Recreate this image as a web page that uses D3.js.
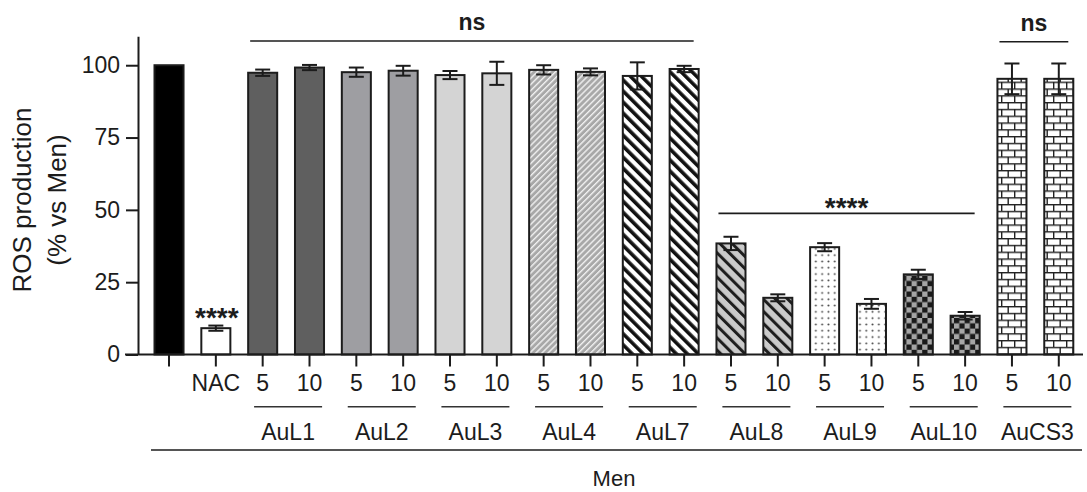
<!DOCTYPE html>
<html lang="en">
<head>
<meta charset="UTF-8">
<title>ROS production</title>
<script src="https://d3js.org/d3.v7.min.js"></script>
<style>
    html, body {
        margin: 0;
        padding: 0;
        background: #fff;
    }
    svg {
        display: block;
        font-family: "Liberation Sans", Arial, sans-serif;
    }
</style>
</head>
<body>
<svg id="chart" width="1087" height="492"></svg>
<script>
// controls, then each compound at two doses
const controls = ["Men", "NAC"];
const compounds = ["AuL1", "AuL2", "AuL3", "AuL4", "AuL7", "AuL8", "AuL9", "AuL10", "AuCS3"];
const doses = ["5", "10"];

// ROS production (% vs Men), same order as the bars
const means = [100, 9.1, 97.4, 99.2, 97.6, 98.1, 96.6, 97.2, 98.4, 97.7,
               96.3, 98.7, 38.4, 19.6, 37.1, 17.5, 27.7, 13.4, 95.3, 95.3];
const sds = [0, 0.9, 1.1, 0.9, 1.6, 1.7, 1.4, 4.0, 1.6, 1.2,
             4.7, 1.1, 2.3, 1.2, 1.4, 1.7, 1.6, 1.3, 5.3, 5.3];

const yTicks = [0, 25, 50, 75, 100];

// significance marks: bar range and label
const brackets = [
    {from: "AuL1 5", to: "AuL7 10", label: "ns", at: 108.4},
    {from: "AuL8 5", to: "AuL10 10", label: "****", at: 48.8},
    {from: "AuCS3 5", to: "AuCS3 10", label: "ns", at: 108.1}
];
const nacMark = "****";

// build rows
const rows = [];
controls.forEach(c => rows.push({id: c, group: c, label: c === "Men" ? "" : c}));
compounds.forEach(c => doses.forEach(d => rows.push({id: c + " " + d, group: c, label: d})));
rows.forEach((r, i) => { r.mean = means[i]; r.sd = sds[i]; });

const svg = d3.select("#chart");
const ink = "#1c1c1c";

// patterns
const defs = svg.append("defs");

function stripes(id, size, lineW, angle, bg, fg) {
    const p = defs.append("pattern").attr("id", id)
        .attr("patternUnits", "userSpaceOnUse")
        .attr("width", size).attr("height", size)
        .attr("patternTransform", `rotate(${angle})`);
    p.append("rect").attr("width", size).attr("height", size).attr("fill", bg);
    p.append("rect").attr("width", lineW).attr("height", size).attr("fill", fg);
}
stripes("p-aul4", 4.3, 1.4, 45, "#a8a8a8", "#f0f0f0");
stripes("p-aul7", 7.8, 3.6, -45, "#ffffff", "#111111");
stripes("p-aul8", 8.6, 3.0, -45, "#cacaca", "#1e1e1e");

const dots = defs.append("pattern").attr("id", "p-aul9")
    .attr("patternUnits", "userSpaceOnUse").attr("width", 6.3).attr("height", 6.3);
dots.append("rect").attr("width", 6.3).attr("height", 6.3).attr("fill", "#fff");
dots.append("circle").attr("cx", 3.15).attr("cy", 3.15).attr("r", 1).attr("fill", "#444");

const checker = defs.append("pattern").attr("id", "p-aul10")
    .attr("patternUnits", "userSpaceOnUse").attr("width", 10.6).attr("height", 10.6);
checker.append("rect").attr("width", 10.6).attr("height", 10.6).attr("fill", "#a6a6a6");
checker.append("rect").attr("width", 5.3).attr("height", 5.3).attr("fill", "#1a1a1a");
checker.append("rect").attr("x", 5.3).attr("y", 5.3).attr("width", 5.3).attr("height", 5.3).attr("fill", "#1a1a1a");

const brick = defs.append("pattern").attr("id", "p-aucs3")
    .attr("patternUnits", "userSpaceOnUse").attr("width", 13).attr("height", 13.6);
brick.append("rect").attr("width", 13).attr("height", 13.6).attr("fill", "#fff");
brick.append("rect").attr("width", 13).attr("height", 1.4).attr("fill", "#222");
brick.append("rect").attr("y", 6.8).attr("width", 13).attr("height", 1.4).attr("fill", "#222");
brick.append("rect").attr("width", 1.4).attr("height", 6.8).attr("fill", "#222");
brick.append("rect").attr("x", 6.5).attr("y", 6.8).attr("width", 1.4).attr("height", 6.8).attr("fill", "#222");

const fillFor = {
    Men: "#000", NAC: "#fff",
    AuL1: "#5f5f5f", AuL2: "#9e9ea2", AuL3: "#d4d4d4",
    AuL4: "url(#p-aul4)", AuL7: "url(#p-aul7)", AuL8: "url(#p-aul8)",
    AuL9: "url(#p-aul9)", AuL10: "url(#p-aul10)", AuCS3: "url(#p-aucs3)"
};

// scales
const x = d3.scaleBand()
    .domain(rows.map(r => r.id))
    .range([145.6, 1082.2])
    .paddingInner(0.38)
    .paddingOuter(0.19);
const y = d3.scaleLinear().domain([0, 110]).range([354.5, 36.3]);
const bw = x.bandwidth();
const cx = id => x(id) + bw / 2;

// bars
svg.append("g")
    .selectAll("rect")
    .data(rows)
    .join("rect")
    .attr("x", d => x(d.id))
    .attr("y", d => y(d.mean))
    .attr("width", bw)
    .attr("height", d => y(0) - y(d.mean))
    .attr("fill", d => fillFor[d.group])
    .attr("stroke", ink)
    .attr("stroke-width", 2);

// error bars
const err = svg.append("g").attr("stroke", ink).attr("stroke-width", 2);
rows.filter(d => d.sd > 0).forEach(d => {
    const c = cx(d.id);
    err.append("line").attr("x1", c).attr("x2", c)
        .attr("y1", y(d.mean + d.sd)).attr("y2", y(d.mean - d.sd));
    [d.mean + d.sd, d.mean - d.sd].forEach(v => {
        err.append("line").attr("x1", c - 7.5).attr("x2", c + 7.5)
            .attr("y1", y(v)).attr("y2", y(v));
    });
});

// y axis
const yAxis = svg.append("g")
    .attr("transform", "translate(138,0)")
    .call(d3.axisLeft(y).tickValues(yTicks).tickSize(12).tickPadding(6).tickSizeOuter(0));
yAxis.select(".domain").attr("stroke", ink).attr("stroke-width", 2);
yAxis.selectAll(".tick line").attr("stroke", ink).attr("stroke-width", 2);
yAxis.selectAll(".tick text").attr("font-size", 23).attr("fill", ink)
    .attr("font-family", "Liberation Sans, Arial, sans-serif");

// x axis
const xAxis = svg.append("g")
    .attr("transform", `translate(0,${y(0)})`)
    .call(d3.axisBottom(x).tickSize(12).tickPadding(8.5)
        .tickFormat(id => rows.find(r => r.id === id).label));
xAxis.select(".domain").remove();
xAxis.selectAll(".tick line").attr("stroke", ink).attr("stroke-width", 2);
xAxis.selectAll(".tick text").attr("font-size", 23).attr("fill", ink)
    .attr("font-family", "Liberation Sans, Arial, sans-serif");
svg.append("line")
    .attr("x1", 125).attr("x2", 1083)
    .attr("y1", y(0)).attr("y2", y(0))
    .attr("stroke", ink).attr("stroke-width", 2);

// compound group lines and names
compounds.forEach(c => {
    const mid = (cx(c + " 5") + cx(c + " 10")) / 2 + 2;
    svg.append("line")
        .attr("x1", mid - 34).attr("x2", mid + 34)
        .attr("y1", 406.7).attr("y2", 406.7)
        .attr("stroke", "#333").attr("stroke-width", 1.6);
    svg.append("text")
        .attr("x", mid).attr("y", 440)
        .attr("text-anchor", "middle")
        .attr("font-size", 23).attr("fill", ink)
        .text(c);
});

// Men line
svg.append("line")
    .attr("x1", 151).attr("x2", 1082)
    .attr("y1", 450).attr("y2", 450)
    .attr("stroke", ink).attr("stroke-width", 1.6);
svg.append("text")
    .attr("x", 614).attr("y", 486)
    .attr("text-anchor", "middle")
    .attr("font-size", 22).attr("fill", ink)
    .text("Men");

// y title
const title = svg.append("g").attr("fill", ink).attr("font-size", 26).attr("text-anchor", "middle");
title.append("text").attr("transform", "translate(31,200) rotate(-90)").text("ROS production");
title.append("text").attr("transform", "translate(65.5,200) rotate(-90)").text("(% vs Men)");

// significance brackets
brackets.forEach(b => {
    const x1 = x(b.from) + 2;
    const x2 = x(b.to) + bw - 5;
    const ly = y(b.at);
    svg.append("line")
        .attr("x1", x1).attr("x2", x2)
        .attr("y1", ly).attr("y2", ly)
        .attr("stroke", ink).attr("stroke-width", 1.6);
    const stars = b.label.startsWith("*");
    svg.append("text")
        .attr("x", (x1 + x2) / 2)
        .attr("y", stars ? ly + 3.7 : ly - 11)
        .attr("text-anchor", "middle")
        .attr("font-weight", "bold")
        .attr("font-size", stars ? 28 : 23)
        .attr("fill", ink)
        .text(b.label);
});

// NAC mark
const nac = rows[1];
svg.append("text")
    .attr("x", cx(nac.id) + 1)
    .attr("y", y(nac.mean + nac.sd) + 1.5)
    .attr("text-anchor", "middle")
    .attr("font-weight", "bold")
    .attr("font-size", 28)
    .attr("fill", ink)
    .text(nacMark);
</script>
</body>
</html>
